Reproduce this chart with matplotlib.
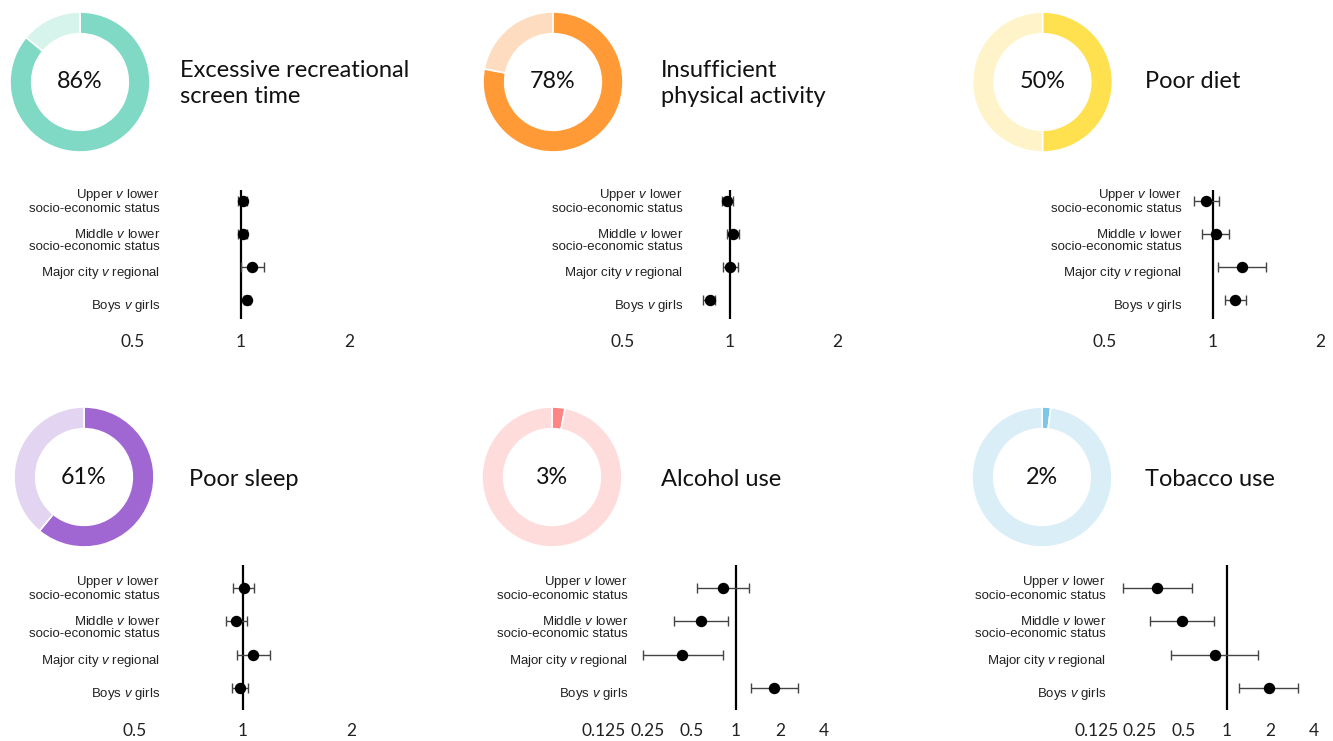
import matplotlib
matplotlib.use("Agg")
import matplotlib.pyplot as plt
import numpy as np

plt.rcParams['mathtext.fontset'] = 'custom'
plt.rcParams['mathtext.rm'] = 'Liberation Sans'
plt.rcParams['mathtext.it'] = 'Liberation Sans:italic'

# ---------------- data ----------------
titles = ["Excessive recreational\nscreen time", "Insufficient\nphysical activity", "Poor diet",
          "Poor sleep", "Alcohol use", "Tobacco use"]
prevalence = [86, 78, 50, 61, 3, 2]
dark_colors = ["#7fd9c4", "#ff9a36", "#ffe04f", "#a067d3", "#ff8585", "#7cc6e8"]
light_colors = ["#d6f3ec", "#fddcbf", "#fff4c9", "#e3d4f1", "#ffdcdc", "#daeef8"]

comparisons = ["Upper $\\mathit{v}$ lower\nsocio-economic status",
               "Middle $\\mathit{v}$ lower\nsocio-economic status",
               "Major city $\\mathit{v}$ regional",
               "Boys $\\mathit{v}$ girls"]

screen_or = [1.01, 1.01, 1.075, 1.04]
screen_lo = [0.98, 0.98, 1.00, 1.02]
screen_hi = [1.04, 1.04, 1.16, 1.06]

activity_or = [0.98, 1.02, 1.00, 0.88]
activity_lo = [0.95, 0.98, 0.955, 0.84]
activity_hi = [1.02, 1.06, 1.05, 0.91]

diet_or = [0.96, 1.02, 1.21, 1.157]
diet_lo = [0.886, 0.935, 1.035, 1.083]
diet_hi = [1.046, 1.11, 1.41, 1.24]

sleep_or = [1.006, 0.955, 1.068, 0.984]
sleep_lo = [0.94, 0.896, 0.96, 0.934]
sleep_hi = [1.07, 1.024, 1.19, 1.03]

alcohol_or = [0.82, 0.574, 0.43, 1.83]
alcohol_lo = [0.544, 0.376, 0.23, 1.27]
alcohol_hi = [1.22, 0.885, 0.82, 2.64]

tobacco_or = [0.33, 0.49, 0.82, 1.94]
tobacco_lo = [0.19, 0.295, 0.41, 1.21]
tobacco_hi = [0.57, 0.81, 1.65, 3.1]

ticks_small = [0.5, 1, 2]
ticks_wide = [0.125, 0.25, 0.5, 1, 2, 4]
tick_labels_small = ["0.5", "1", "2"]
tick_labels_wide = ["0.125", "0.25", "0.5", "1", "2", "4"]

# ---------------- layout helpers ----------------
W, H = 1333, 741
fig = plt.figure(figsize=(W / 100, H / 100), dpi=100)
fig.patch.set_facecolor("white")

LABEL_SHIFT_PX = [0.0, 6.5, 6.5, 6.5]   # vertical nudge of the row labels (layout only)


def px_axes(x0, y0, x1, y1):
    return fig.add_axes([x0 / W, 1 - y1 / H, (x1 - x0) / W, (y1 - y0) / H])


def donut(cx, cy, r, pct, dark, light, title, title_x, title_dy=0):
    ax = px_axes(cx - r, cy - r, cx + r, cy + r)
    ax.pie([pct, 100 - pct], colors=[dark, light], startangle=90, counterclock=False,
           radius=1.0, wedgeprops=dict(width=0.31, edgecolor="white", linewidth=1.2))
    ax.set_xlim(-1, 1)
    ax.set_ylim(-1, 1)
    ax.set_aspect("equal")
    ax.axis("off")
    ax.text(0, 0, f"{pct}%", ha="center", va="center", fontsize=16.8, family="Lato",
            color="#111111")
    fig.text(title_x / W, 1 - (cy + title_dy) / H, title, ha="left", va="center", fontsize=17,
             family="Lato", color="#111111", linespacing=1.25)


def forest(x0, x1, y0, y1, row0, row_step, ors, los, his, ticks, tlabels, label_right, pad):
    ax = px_axes(x0, y0, x1, y1)
    ax.set_xscale("log", base=2)
    ax.set_xlim(ticks[0], ticks[-1])
    top = (y0 - row0) / row_step
    bot = (y1 - row0) / row_step
    ax.set_ylim(bot, top)
    ys = np.arange(len(ors))
    o = np.array(ors)
    xerr = [o - np.array(los), np.array(his) - o]
    ax.errorbar(o, ys, xerr=xerr, fmt="none", ecolor="#444444", elinewidth=1.0,
                capsize=3.5, capthick=1.0, zorder=2, clip_on=False)
    ax.plot(o, ys, "o", color="black", markersize=7.2, zorder=3, clip_on=False)
    ax.axvline(1, color="black", lw=1.6, zorder=1)
    for s in ax.spines.values():
        s.set_visible(False)
    ax.set_yticks([])
    ax.set_xticks(ticks)
    ax.set_xticklabels(tlabels)
    ax.xaxis.set_minor_locator(matplotlib.ticker.NullLocator())
    ax.tick_params(axis="x", length=0, pad=pad, labelsize=12.5)
    for lbl in ax.get_xticklabels():
        lbl.set_family("Lato")
        lbl.set_color("#222222")
    for i, name in enumerate(comparisons):
        ypx = row0 + i * row_step + LABEL_SHIFT_PX[i]
        fig.text(label_right / W, 1 - ypx / H, name, ha="right",
                 va="center", fontsize=9.5, family="Liberation Sans", color="#222222",
                 linespacing=1.0, multialignment="right")
    return ax


# ---------------- donuts ----------------
donut(80, 82, 70, prevalence[0], dark_colors[0], light_colors[0], titles[0], 180, 1.5)
donut(553, 82, 70, prevalence[1], dark_colors[1], light_colors[1], titles[1], 661, 1.5)
donut(1042.5, 82, 70, prevalence[2], dark_colors[2], light_colors[2], titles[2], 1145)
donut(84, 477, 70, prevalence[3], dark_colors[3], light_colors[3], titles[3], 189, 2)
donut(552, 477, 70, prevalence[4], dark_colors[4], light_colors[4], titles[4], 661, 2)
donut(1042, 477, 70, prevalence[5], dark_colors[5], light_colors[5], titles[5], 1145, 2)

# ---------------- forest plots ----------------
forest(133, 349, 190, 319, 200.7, 33.0, screen_or, screen_lo, screen_hi,
       ticks_small, tick_labels_small, 160, 11)
forest(623, 837, 190, 319, 200.7, 33.0, activity_or, activity_lo, activity_hi,
       ticks_small, tick_labels_small, 683, 11)
forest(1105, 1320, 190, 319, 200.7, 33.0, diet_or, diet_lo, diet_hi,
       ticks_small, tick_labels_small, 1182, 11)
forest(135, 351, 565, 710, 588, 33.3, sleep_or, sleep_lo, sleep_hi,
       ticks_small, tick_labels_small, 160, 9.5)
forest(604, 824, 565, 710, 588, 33.3, alcohol_or, alcohol_lo, alcohol_hi,
       ticks_wide, tick_labels_wide, 628, 9.5)
forest(1096.5, 1314, 565, 710, 588, 33.3, tobacco_or, tobacco_lo, tobacco_hi,
       ticks_wide, tick_labels_wide, 1106, 9.5)

fig.savefig("out.png", dpi=100, facecolor="white")
